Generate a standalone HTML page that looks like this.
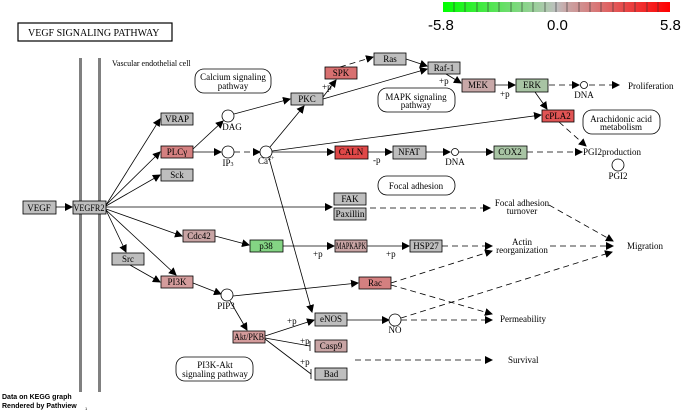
<!DOCTYPE html>
<html><head><meta charset="utf-8"><style>
html,body{margin:0;padding:0;background:#fff;width:685px;height:412px;overflow:hidden}
svg{display:block}
text{font-family:"Liberation Serif",serif;font-size:9px;fill:#000}
.n{text-anchor:middle}
</style></head><body>
<svg width="685" height="412" viewBox="0 0 685 412" xmlns="http://www.w3.org/2000/svg">
<defs>
<marker id="a" markerWidth="8" markerHeight="8" refX="7" refY="4" orient="auto" markerUnits="userSpaceOnUse"><path d="M0,0 L8,4 L0,8 z" fill="#000"/></marker>
<linearGradient id="g" x1="0" x2="1"><stop offset="0" stop-color="#00ff00"/><stop offset="0.46" stop-color="#b0c8b0"/><stop offset="0.5" stop-color="#bebebe"/><stop offset="0.54" stop-color="#c8a8a8"/><stop offset="1" stop-color="#ff0000"/></linearGradient>
</defs>
<rect x="443" y="2" width="227" height="10" fill="url(#g)"/>
<g stroke="#333" stroke-width="0.6">
<line x1="454" y1="2" x2="454" y2="12"/><line x1="465" y1="2" x2="465" y2="12"/><line x1="477" y1="2" x2="477" y2="12"/><line x1="488" y1="2" x2="488" y2="12"/><line x1="499" y1="2" x2="499" y2="12"/><line x1="511" y1="2" x2="511" y2="12"/><line x1="522" y1="2" x2="522" y2="12"/><line x1="533" y1="2" x2="533" y2="12"/><line x1="545" y1="2" x2="545" y2="12"/><line x1="556" y1="2" x2="556" y2="12"/><line x1="567" y1="2" x2="567" y2="12"/><line x1="579" y1="2" x2="579" y2="12"/><line x1="590" y1="2" x2="590" y2="12"/><line x1="601" y1="2" x2="601" y2="12"/><line x1="613" y1="2" x2="613" y2="12"/><line x1="624" y1="2" x2="624" y2="12"/><line x1="635" y1="2" x2="635" y2="12"/><line x1="647" y1="2" x2="647" y2="12"/><line x1="658" y1="2" x2="658" y2="12"/>
</g>
<text x="428" y="30" style="font-family:'Liberation Sans',sans-serif;font-size:15px">-5.8</text>
<text x="547" y="30" style="font-family:'Liberation Sans',sans-serif;font-size:15px">0.0</text>
<text x="660" y="30" style="font-family:'Liberation Sans',sans-serif;font-size:15px">5.8</text>
<rect x="18" y="23" width="154" height="18" fill="#fff" stroke="#000" stroke-width="1.2"/>
<text x="28" y="36" style="font-size:10px">VEGF  SIGNALING  PATHWAY</text>
<line x1="80.5" y1="58" x2="80.5" y2="392" stroke="#808080" stroke-width="3"/>
<line x1="99.5" y1="58" x2="99.5" y2="392" stroke="#808080" stroke-width="3"/>
<text x="112" y="66" style="font-size:8px">Vascular endothelial cell</text>
<g fill="#fff" stroke="#000" stroke-width="0.8">
<rect x="195" y="69" width="76" height="24" rx="9"/>
<rect x="378" y="88" width="77" height="24" rx="9"/>
<rect x="583" y="110" width="77" height="24" rx="9"/>
<rect x="378" y="176" width="77" height="19" rx="9"/>
<rect x="176" y="357" width="77" height="24" rx="9"/>
</g>
<text class="n" x="233" y="80">Calcium signaling</text><text class="n" x="233" y="89">pathway</text>
<text class="n" x="416" y="100">MAPK signaling</text><text class="n" x="416" y="108">pathway</text>
<text class="n" x="621" y="122">Arachidonic acid</text><text class="n" x="621" y="130">metabolism</text>
<text class="n" x="416" y="189">Focal adhesion</text>
<text class="n" x="215" y="368">PI3K-Akt</text><text class="n" x="215" y="377">signaling pathway</text>
<g stroke="#000" stroke-width="0.8" fill="none" marker-end="url(#a)">
<line x1="56" y1="207" x2="72" y2="207"/>
<line x1="106" y1="205" x2="160" y2="119"/>
<line x1="106" y1="205" x2="160" y2="152"/>
<line x1="106" y1="206" x2="160" y2="175"/>
<line x1="106" y1="207" x2="332" y2="207"/>
<line x1="106" y1="209" x2="182" y2="236"/>
<line x1="106" y1="210" x2="126" y2="252"/>
<line x1="106" y1="210" x2="176" y2="275"/>
<line x1="193" y1="152" x2="221" y2="152"/>
<line x1="193" y1="149" x2="223" y2="121"/>
<line x1="234" y1="114" x2="290" y2="99"/>
<line x1="270" y1="147" x2="304" y2="106"/>
<line x1="272" y1="151" x2="541" y2="115"/>
<line x1="272" y1="152" x2="334" y2="152"/>
<line x1="269" y1="158" x2="312" y2="312"/>
<line x1="323" y1="97" x2="336" y2="80"/>
<line x1="323" y1="99" x2="427" y2="69"/>
<line x1="406" y1="59" x2="427" y2="66"/>
<line x1="446" y1="74" x2="461" y2="83"/>
<line x1="495" y1="85" x2="515" y2="85"/>
<line x1="535" y1="92" x2="547" y2="109"/>
<line x1="368" y1="152" x2="392" y2="152"/>
<line x1="426" y1="152" x2="450" y2="152"/>
<line x1="459" y1="152" x2="493" y2="152"/>
<line x1="215" y1="236" x2="249" y2="245"/>
<line x1="283" y1="246" x2="334" y2="246"/>
<line x1="367" y1="246" x2="409" y2="246"/>
<line x1="130" y1="265" x2="160" y2="282"/>
<line x1="193" y1="283" x2="221" y2="294"/>
<line x1="233" y1="296" x2="358" y2="283"/>
<line x1="230" y1="301" x2="247" y2="330"/>
<line x1="265" y1="336" x2="314" y2="320"/>
<line x1="347" y1="320" x2="389" y2="320"/>
</g>
<g stroke="#000" stroke-width="0.8">
<line x1="265" y1="338" x2="310" y2="346"/><line x1="310" y1="341" x2="310" y2="351"/>
<line x1="265" y1="339" x2="311" y2="374"/><line x1="311" y1="369" x2="311" y2="379"/>
</g>
<g stroke="#000" stroke-width="0.8" fill="none" stroke-dasharray="6,4" marker-end="url(#a)">
<line x1="340" y1="67" x2="373" y2="57"/>
<line x1="234" y1="152" x2="260" y2="152"/>
<line x1="549" y1="85" x2="579" y2="85"/>
<line x1="589" y1="85" x2="619" y2="85"/>
<line x1="559" y1="122" x2="586" y2="146"/>
<line x1="527" y1="152" x2="582" y2="152"/>
<line x1="370" y1="208" x2="490" y2="208"/>
<line x1="442" y1="246" x2="492" y2="246"/>
<line x1="391" y1="283" x2="492" y2="251"/>
<line x1="391" y1="285" x2="492" y2="314"/>
<line x1="401" y1="320" x2="492" y2="320"/>
<line x1="401" y1="318" x2="612" y2="252"/>
<line x1="549" y1="205" x2="613" y2="241"/>
<line x1="550" y1="246" x2="613" y2="246"/>
<line x1="355" y1="360" x2="492" y2="360"/>
</g>
<g fill="#fff" stroke="#000" stroke-width="0.8">
<circle cx="228" cy="116" r="6"/><circle cx="228" cy="152" r="6"/><circle cx="266" cy="152" r="6"/>
<circle cx="584" cy="85" r="3.5"/><circle cx="455" cy="152" r="3.5"/><circle cx="618" cy="165" r="6"/>
<circle cx="227" cy="295" r="6"/><circle cx="395" cy="320" r="6"/>
</g>
<text class="n" x="232" y="130">DAG</text>
<text class="n" x="228" y="166">IP<tspan style="font-size:6px">3</tspan></text>
<text x="258" y="164">Ca</text><text x="268" y="160" style="font-size:6px">2+</text>
<text class="n" x="584" y="98">DNA</text>
<text class="n" x="455" y="165">DNA</text>
<text class="n" x="618" y="179">PGI2</text>
<text class="n" x="226" y="309">PIP3</text>
<text class="n" x="395" y="333">NO</text>
<g stroke="#000" stroke-width="0.8">
<rect x="23" y="201" width="33" height="13" fill="#bebebe"/>
<rect x="73" y="201" width="33" height="13" fill="#bebebe"/>
<rect x="161" y="113" width="32" height="12" fill="#bebebe"/>
<rect x="161" y="146" width="32" height="12" fill="#d48080"/>
<rect x="161" y="169" width="32" height="12" fill="#bebebe"/>
<rect x="291" y="93" width="32" height="12" fill="#bebebe"/>
<rect x="325" y="67" width="32" height="12" fill="#d87070"/>
<rect x="374" y="53" width="32" height="12" fill="#bebebe"/>
<rect x="428" y="62" width="32" height="12" fill="#bebebe"/>
<rect x="462" y="79" width="33" height="13" fill="#c8a8a8"/>
<rect x="516" y="79" width="32" height="13" fill="#a8c4a4"/>
<rect x="542" y="110" width="32" height="12" fill="#e05454"/>
<rect x="335" y="146" width="33" height="13" fill="#e04848"/>
<rect x="393" y="146" width="33" height="13" fill="#bebebe"/>
<rect x="494" y="146" width="33" height="13" fill="#a8c4a4"/>
<rect x="334" y="193" width="32" height="12" fill="#bebebe"/>
<rect x="334" y="208" width="32" height="12" fill="#bebebe"/>
<rect x="183" y="230" width="32" height="12" fill="#c8a4a4"/>
<rect x="250" y="240" width="33" height="12" fill="#84d484"/>
<rect x="335" y="240" width="32" height="12" fill="#c8a4a4"/>
<rect x="410" y="240" width="32" height="12" fill="#bebebe"/>
<rect x="112" y="253" width="32" height="12" fill="#bebebe"/>
<rect x="161" y="276" width="32" height="12" fill="#d49c9c"/>
<rect x="359" y="277" width="32" height="12" fill="#d48080"/>
<rect x="315" y="313" width="32" height="13" fill="#bebebe"/>
<rect x="233" y="331" width="32" height="12" fill="#d49c9c"/>
<rect x="315" y="340" width="32" height="12" fill="#c8a4a4"/>
<rect x="315" y="368" width="32" height="12" fill="#bebebe"/>
</g>
<g style="font-size:8.5px">
<text class="n" x="39" y="211">VEGF</text>
<text class="n" x="89" y="211" textLength="31" lengthAdjust="spacingAndGlyphs">VEGFR2</text>
<text class="n" x="177" y="122">VRAP</text>
<text class="n" x="177" y="155">PLCγ</text>
<text class="n" x="177" y="178">Sck</text>
<text class="n" x="307" y="102">PKC</text>
<text class="n" x="341" y="76">SPK</text>
<text class="n" x="390" y="62">Ras</text>
<text class="n" x="444" y="71">Raf-1</text>
<text class="n" x="478" y="88">MEK</text>
<text class="n" x="532" y="88">ERK</text>
<text class="n" x="558" y="119">cPLA2</text>
<text class="n" x="351" y="155">CALN</text>
<text class="n" x="409" y="155">NFAT</text>
<text class="n" x="510" y="155">COX2</text>
<text class="n" x="350" y="202">FAK</text>
<text class="n" x="350" y="217" textLength="29" lengthAdjust="spacingAndGlyphs">Paxillin</text>
<text class="n" x="199" y="239">Cdc42</text>
<text class="n" x="266" y="249">p38</text>
<text class="n" x="351" y="249" textLength="30" lengthAdjust="spacingAndGlyphs">MAPKAPK</text>
<text class="n" x="426" y="249">HSP27</text>
<text class="n" x="128" y="262">Src</text>
<text class="n" x="177" y="285">PI3K</text>
<text class="n" x="375" y="286">Rac</text>
<text class="n" x="331" y="322">eNOS</text>
<text class="n" x="249" y="340" textLength="30" lengthAdjust="spacingAndGlyphs">Akt/PKB</text>
<text class="n" x="331" y="349">Casp9</text>
<text class="n" x="331" y="377">Bad</text>
</g>
<g style="font-size:8.5px">
<text x="322" y="90">+p</text>
<text x="439" y="84">+p</text>
<text x="500" y="97">+p</text>
<text x="373" y="163">-p</text>
<text x="313" y="257">+p</text>
<text x="386" y="257">+p</text>
<text x="287" y="324">+p</text>
<text x="300" y="344">+p</text>
<text x="300" y="365">+p</text>
</g>
<text x="628" y="89">Proliferation</text>
<text x="583" y="155">PGI2production</text>
<text class="n" x="522" y="206">Focal adhesion</text><text class="n" x="522" y="214">turnover</text>
<text class="n" x="522" y="245">Actin</text><text class="n" x="522" y="253">reorganization</text>
<text x="627" y="249">Migration</text>
<text x="500" y="322">Permeability</text>
<text x="508" y="363">Survival</text>
<text x="2" y="399" style="font-family:'Liberation Sans',sans-serif;font-size:7px;font-weight:bold">Data on KEGG graph</text>
<text x="2" y="408" style="font-family:'Liberation Sans',sans-serif;font-size:7px;font-weight:bold">Rendered by Pathview</text>
<text x="85" y="410" style="font-family:'Liberation Sans',sans-serif;font-size:4px">1</text>
</svg>
</body></html>
